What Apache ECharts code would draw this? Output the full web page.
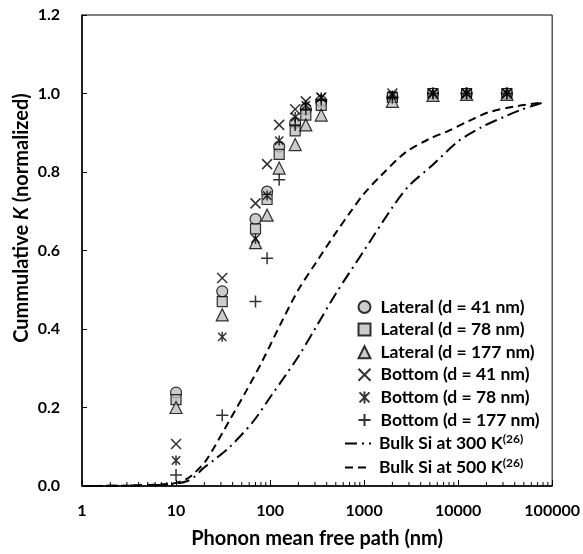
<!DOCTYPE html>
<html><head><meta charset="utf-8">
<script src="https://cdn.jsdelivr.net/npm/echarts@6/dist/echarts.min.js"></script>
<style>html,body{margin:0;padding:0;background:#fff}#c{width:583px;height:554px}</style>
</head><body><div id="c"></div>
<script>
// ---- data ----
const xPositions = [10, 31, 70, 93, 125, 185, 240, 350, 2000, 5400, 12300, 33000];
const lateral41  = [0.238, 0.496, 0.68, 0.75, 0.865, 0.925, 0.96, 0.98, 0.99, 1.0, 1.0, 1.0];
const lateral78  = [0.22, 0.47, 0.655, 0.73, 0.845, 0.905, 0.945, 0.97, 0.99, 1.0, 1.0, 1.0];
const lateral177 = [0.20, 0.436, 0.62, 0.69, 0.81, 0.87, 0.92, 0.945, 0.98, 0.995, 0.998, 0.998];
const bottom41   = [0.107, 0.53, 0.72, 0.82, 0.92, 0.96, 0.98, 0.99, 1.0, 1.0, 1.0, 1.0];
const bottom78   = [0.065, 0.38, 0.63, 0.74, 0.88, 0.94, 0.97, 0.99, 0.995, 1.0, 1.0, 1.0];
const bottom177  = [0.028, 0.18, 0.47, 0.58, 0.78, 0.92, 0.96, 0.985, 0.99, 1.0, 1.0, 1.0];

const bulk300X = [1, 3, 7, 10, 13, 16, 19, 25, 37, 65, 105, 148, 200, 300, 500, 1000, 2000, 3000, 5200, 10000, 17700, 31800, 46000, 80000];
const bulk300Y = [0, 0.001, 0.003, 0.006, 0.012, 0.025, 0.043, 0.065, 0.099, 0.162, 0.233, 0.284, 0.33, 0.40, 0.49, 0.60, 0.71, 0.765, 0.815, 0.878, 0.914, 0.942, 0.958, 0.977];
const bulk500X = [1, 3, 7, 10, 13, 16, 21, 37, 56, 83, 134, 200, 300, 500, 700, 1000, 1500, 2760, 5000, 7900, 13000, 21000, 40000, 80000];
const bulk500Y = [0, 0.001, 0.004, 0.008, 0.018, 0.035, 0.066, 0.167, 0.243, 0.319, 0.42, 0.50, 0.565, 0.645, 0.695, 0.745, 0.79, 0.85, 0.885, 0.905, 0.93, 0.952, 0.967, 0.977];

const xTickLabels = ['1', '10', '100', '1000', '10000', '100000'];
const minorTickValues = [];
[1, 10, 100, 1000, 10000].forEach(d => { for (let m = 2; m <= 9; m++) minorTickValues.push(m * d); });

const names = ['Lateral (d = 41 nm)', 'Lateral (d = 78 nm)', 'Lateral (d = 177 nm)',
  'Bottom (d = 41 nm)', 'Bottom (d = 78 nm)', 'Bottom (d = 177 nm)',
  'Bulk Si at 300 K', 'Bulk Si at 500 K'];

// ---- build ----
const pair = (xs, ys) => xs.map((x, i) => [x, ys[i]]);
const FONT = 'Lato';
const gray = '#bfbfbf';
const crossPath = 'path://M0,0L10,10M10,0L0,10';
const starPath = 'path://M0,0L10,10M10,0L0,10M5,-1L5,11';
const plusPath = 'path://M5,0L5,10M0,5L10,5';

function filled(name, symbol, size, ys) {
  return { name, type: 'scatter', symbol, symbolSize: size, symbolKeepAspect: true, data: pair(xPositions, ys),
    itemStyle: { color: gray, borderColor: '#000', borderWidth: 1.2 }, z: 5 };
}
function stroked(name, symbol, size, ys) {
  return { name, type: 'scatter', symbol, symbolSize: size, symbolKeepAspect: true, data: pair(xPositions, ys),
    itemStyle: { color: 'none', borderColor: '#000', borderWidth: 1.5 }, z: 6 };
}
const legendText = { color: '#000', fontFamily: FONT, fontWeight: 'bold', fontSize: 17.5 };

const option = {
  animation: false,
  backgroundColor: '#fff',
  grid: { left: 82, right: 29, top: 15, bottom: 65, show: true, borderColor: '#000', borderWidth: 1, backgroundColor: 'transparent' },
  xAxis: {
    type: 'log', logBase: 10, min: 1, max: 100000,
    axisLine: { lineStyle: { color: '#000', width: 1.5 } },
    axisTick: { inside: true, length: 6, lineStyle: { color: '#000', width: 1 } },
    splitLine: { show: false },
    axisLabel: { margin: 17, color: '#000', fontFamily: FONT, fontWeight: 'bold', fontSize: 16,
      formatter: v => { const i = Math.round(Math.log10(v)); return xTickLabels[i] !== undefined ? xTickLabels[i] : ''; } },
    name: 'Phonon mean free path (nm)', nameLocation: 'middle', nameGap: 43,
    nameTextStyle: { color: '#000', fontFamily: FONT, fontWeight: 'bold', fontSize: 20 }
  },
  yAxis: {
    type: 'value', min: 0, max: 1.2, interval: 0.2,
    axisLine: { show: true, lineStyle: { color: '#000', width: 1.5 } },
    axisTick: { show: true, inside: true, length: 5, lineStyle: { color: '#000', width: 1 } },
    splitLine: { show: false },
    axisLabel: { margin: 22, color: '#000', fontFamily: FONT, fontWeight: 'bold', fontSize: 16,
      formatter: v => v.toFixed(1) }
  },
  graphic: [{
    type: 'text', x: 22, y: 218, rotation: Math.PI / 2,
    style: {
      text: '{a|Cummulative }{i|K}{a| (normalized)}',
      align: 'center', verticalAlign: 'middle',
      rich: {
        a: { fontFamily: FONT, fontWeight: 'bold', fontSize: 20, fill: '#000' },
        i: { fontFamily: FONT, fontWeight: 'bold', fontStyle: 'italic', fontSize: 20, fill: '#000' }
      }
    }
  }],
  legend: [{
    orient: 'vertical', left: 351, top: 293, itemGap: 4.6, itemWidth: 12, itemHeight: 12,
    data: names.slice(0, 6),
    textStyle: Object.assign({ padding: [0, 0, 0, 5] }, legendText)
  }, {
    orient: 'vertical', left: 339, top: 428, itemGap: 4.6, itemWidth: 26, itemHeight: 12,
    data: names.slice(6),
    textStyle: Object.assign({ padding: [0, 0, 0, 3],
      rich: { sup: { fontFamily: FONT, fontWeight: 'bold', fontSize: 12, verticalAlign: 'top', fill: '#000', padding: [0, 0, 9, 0] } } }, legendText),
    formatter: n => n + '{sup|(26)}'
  }],
  series: [
    filled(names[0], 'circle', 11, lateral41),
    filled(names[1], 'rect', 10, lateral78),
    filled(names[2], 'triangle', 12, lateral177),
    stroked(names[3], crossPath, 10, bottom41),
    stroked(names[4], starPath, 10, bottom78),
    stroked(names[5], plusPath, 12, bottom177),
    { name: names[6], type: 'line', symbol: 'circle', showSymbol: false, smooth: 0.3, data: pair(bulk300X, bulk300Y),
      lineStyle: { color: '#000', width: 2, type: [12, 5, 2, 5] }, itemStyle: { color: 'rgba(0,0,0,0)', borderWidth: 0 }, z: 3 },
    { name: names[7], type: 'line', symbol: 'circle', showSymbol: false, smooth: 0.3, data: pair(bulk500X, bulk500Y),
      lineStyle: { color: '#000', width: 2, type: [8, 5] }, itemStyle: { color: 'rgba(0,0,0,0)', borderWidth: 0 }, z: 3 },
    { type: 'custom', silent: true, z: 4, data: minorTickValues.map(v => [v, 0]),
      renderItem: (params, api) => {
        const p = api.coord([api.value(0), 0]);
        return { type: 'line', shape: { x1: p[0], y1: p[1], x2: p[0], y2: p[1] - 4 }, style: { stroke: '#000', lineWidth: 1 } };
      } }
  ]
};
const chart = echarts.init(document.getElementById('c'), null, { renderer: 'canvas' });
chart.setOption(option);
</script></body></html>
